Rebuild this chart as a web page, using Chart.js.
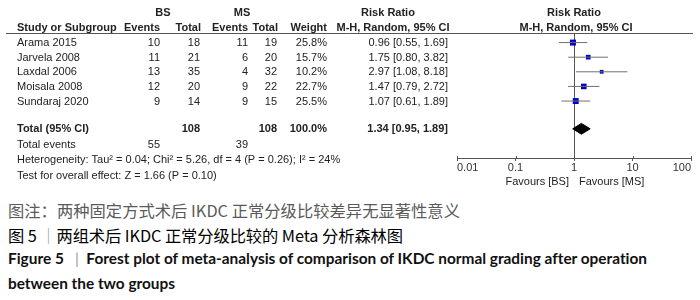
<!DOCTYPE html>
<html>
<head>
<meta charset="utf-8">
<script src="https://cdn.jsdelivr.net/npm/chart.js@4.4.1/dist/chart.umd.min.js"></script>
<style>
html,body{margin:0;padding:0;background:#fff;}
#wrap{position:relative;width:700px;height:300px;overflow:hidden;background:#fff;}
#chartBox{position:absolute;left:0;top:0;width:700px;height:195px;}
.cap{position:absolute;left:8px;white-space:nowrap;height:20px;line-height:20px;}
#cap1{top:200px;font-family:"Noto Sans CJK SC",sans-serif;font-size:16.3px;color:#5a5a5a;}
#cap2{top:225px;font-family:"Noto Sans CJK SC",sans-serif;font-size:16.3px;color:#000;font-weight:400;}
#cap3{top:248px;font-family:Lato,"Noto Sans CJK SC",sans-serif;font-size:15.4px;font-weight:bold;color:#111;}
#cap4{top:273px;font-family:Lato,"Noto Sans CJK SC",sans-serif;font-size:15.4px;font-weight:bold;color:#111;}
.bar{color:#9a9a9a;font-weight:normal;}
</style>
</head>
<body>
<div id="wrap">
  <div id="chartBox"><canvas id="c" width="700" height="195"></canvas></div>
  <div class="cap" id="cap1">图注：两种固定方式术后 IKDC 正常分级比较差异无显著性意义</div>
  <div class="cap" id="cap2">图 5 <span class="bar">｜</span>两组术后 IKDC 正常分级比较的 Meta 分析森林图</div>
  <div class="cap" id="cap3">Figure 5 &nbsp;&nbsp;<span class="bar">|</span>&nbsp;&nbsp;Forest plot of meta-analysis of comparison of IKDC normal grading after operation</div>
  <div class="cap" id="cap4">between the two groups</div>
</div>
<script>
// ---------------- DATA ----------------
const studies   = ['Arama 2015', 'Jarvela 2008', 'Laxdal 2006', 'Moisala 2008', 'Sundaraj 2020'];
const bsEvents  = [10, 11, 13, 12, 9];
const bsTotal   = [18, 21, 35, 20, 14];
const msEvents  = [11, 6, 4, 9, 9];
const msTotal   = [19, 20, 32, 22, 15];
const weights   = [25.8, 15.7, 10.2, 22.7, 25.5];
const riskRatio = [0.96, 1.75, 2.97, 1.47, 1.07];
const ciLow     = [0.55, 0.80, 1.08, 0.79, 0.61];
const ciHigh    = [1.69, 3.82, 8.18, 2.72, 1.89];

const pooledRR   = 1.34;
const pooledLow  = 0.95;
const pooledHigh = 1.89;
const totalBS = 108, totalMS = 108, totalWeight = '100.0%';
const eventsBS = 55, eventsMS = 39;
const heterogeneityText = 'Heterogeneity: Tau² = 0.04; Chi² = 5.26, df = 4 (P = 0.26); I² = 24%';
const overallEffectText = 'Test for overall effect: Z = 1.66 (P = 0.10)';

const axisTicks  = [0.01, 0.1, 1, 10, 100];
const axisLabels = ['0.01', '0.1', '1', '10', '100'];
const favoursLeft = 'Favours [BS]';
const favoursRight = 'Favours [MS]';

// ---------------- LAYOUT ----------------
const studyRows = studies.map((_, i) => i);
const totalRow = 5.9, eventsRow = 7, hetRow = 8, testRow = 9.1;
const diamondHalf = 0.37;
const FONT = '"Liberation Sans", Arial, sans-serif';
const TXT = '#222';
const captionRight = {cap1: 460, cap2: 403, cap3: 647, cap4: 175};

function fmt(v){ return v.toFixed(2); }

const datasets = [];
studies.forEach((s, i) => {
  datasets.push({
    label: s + ' CI',
    data: [{x: ciLow[i], y: studyRows[i]}, {x: ciHigh[i], y: studyRows[i]}],
    showLine: true, borderColor: '#707070', borderWidth: 1, pointRadius: 0, fill: false
  });
});
datasets.push({
  label: 'Risk ratio',
  data: riskRatio.map((v, i) => ({x: v, y: studyRows[i]})),
  pointStyle: 'rect',
  pointRadius: weights.map(w => 0.83 * Math.sqrt(w)),
  backgroundColor: '#0000c8', borderColor: '#0000c8', borderWidth: 0
});
datasets.push({
  label: 'Pooled',
  data: [
    {x: pooledLow, y: totalRow},
    {x: pooledRR, y: totalRow - diamondHalf},
    {x: pooledHigh, y: totalRow},
    {x: pooledRR, y: totalRow + diamondHalf},
    {x: pooledLow, y: totalRow}
  ],
  showLine: true, fill: 'shape', borderColor: '#000', backgroundColor: '#000',
  borderWidth: 1, pointRadius: 0, tension: 0
});

const tablePlugin = {
  id: 'tablePlugin',
  beforeDatasetsDraw(chart) {
    const {ctx, chartArea, scales: {x}} = chart;
    const px = x.getPixelForValue(1);
    ctx.save();
    ctx.strokeStyle = '#555';
    ctx.lineWidth = 1;
    ctx.beginPath();
    ctx.moveTo(Math.round(px) + 0.5, chartArea.top);
    ctx.lineTo(Math.round(px) + 0.5, chartArea.bottom);
    ctx.stroke();
    ctx.restore();
  },
  afterDraw(chart) {
    const {ctx, scales: {x, y}} = chart;
    const ry = r => y.getPixelForValue(r) + 0.5;
    ctx.save();
    ctx.fillStyle = TXT;
    ctx.textBaseline = 'middle';
    const t = (s, xx, yy, align, bold) => {
      ctx.font = (bold ? 'bold ' : '') + '11px ' + FONT;
      ctx.textAlign = align;
      ctx.fillText(String(s), xx, yy);
    };
    // header line 1
    t('BS', 163, 13, 'center', true);
    t('MS', 242, 13, 'center', true);
    t('Risk Ratio', 388, 13, 'center', true);
    t('Risk Ratio', 574, 13, 'center', true);
    // header line 2
    t('Study or Subgroup', 17, 28, 'left', true);
    t('Events', 160, 28, 'right', true);
    t('Total', 201, 28, 'right', true);
    t('Events', 248, 28, 'right', true);
    t('Total', 278, 28, 'right', true);
    t('Weight', 327, 28, 'right', true);
    t('M-H, Random, 95% CI', 393, 28, 'center', true);
    t('M-H, Random, 95% CI', 576, 28, 'center', true);
    // underline
    ctx.strokeStyle = '#555';
    ctx.lineWidth = 1;
    ctx.beginPath();
    ctx.moveTo(6, 33.5);
    ctx.lineTo(693, 33.5);
    ctx.stroke();
    // small upward tick parts crossing the axis
    const axisY = chart.chartArea.bottom;
    ctx.beginPath();
    axisTicks.forEach(v => {
      const px = Math.round(x.getPixelForValue(v)) + 0.5;
      ctx.moveTo(px, axisY - 2);
      ctx.lineTo(px, axisY);
    });
    ctx.stroke();
    // study rows
    studies.forEach((s, i) => {
      const yy = ry(studyRows[i]);
      t(s, 17, yy, 'left', false);
      t(bsEvents[i], 160, yy, 'right', false);
      t(bsTotal[i], 200, yy, 'right', false);
      t(msEvents[i], 248, yy, 'right', false);
      t(msTotal[i], 277, yy, 'right', false);
      t(weights[i].toFixed(1) + '%', 327, yy, 'right', false);
      t(fmt(riskRatio[i]) + ' [' + fmt(ciLow[i]) + ', ' + fmt(ciHigh[i]) + ']', 448, yy, 'right', false);
    });
    // totals
    let yy = ry(totalRow);
    t('Total (95% CI)', 17, yy, 'left', true);
    t(totalBS, 200, yy, 'right', true);
    t(totalMS, 277, yy, 'right', true);
    t(totalWeight, 327, yy, 'right', true);
    t(fmt(pooledRR) + ' [' + fmt(pooledLow) + ', ' + fmt(pooledHigh) + ']', 448, yy, 'right', true);
    yy = ry(eventsRow);
    t('Total events', 17, yy, 'left', false);
    t(eventsBS, 160, yy, 'right', false);
    t(eventsMS, 248, yy, 'right', false);
    t(heterogeneityText, 17, ry(hetRow), 'left', false);
    t(overallEffectText, 17, ry(testRow), 'left', false);
    // favours
    const p1 = x.getPixelForValue(1);
    t(favoursLeft, p1 - 5, 182, 'right', false);
    t(favoursRight, p1 + 5, 182, 'left', false);
    ctx.restore();
  }
};

new Chart(document.getElementById('c'), {
  type: 'scatter',
  data: {datasets},
  options: {
    responsive: false,
    animation: false,
    devicePixelRatio: 1,
    layout: {padding: {left: 457, right: 9, top: 33, bottom: 20.8}},
    plugins: {legend: {display: false}, tooltip: {enabled: false}},
    scales: {
      x: {
        type: 'logarithmic', min: 0.01, max: 100,
        afterBuildTicks: s => { s.ticks = axisTicks.map(v => ({value: v})); },
        ticks: {
          align: 'inner', autoSkip: false, maxRotation: 0, padding: 0,
          color: '#333', font: {family: FONT, size: 11},
          callback: (v, i) => axisLabels[i]
        },
        grid: {drawOnChartArea: false, drawTicks: true, tickLength: 3, color: '#555'},
        border: {display: true, color: '#555', width: 1}
      },
      y: {type: 'linear', reverse: true, min: -0.655, max: 7.897, display: false}
    }
  },
  plugins: [tablePlugin]
});

// fit caption widths to the reference line lengths (letter-spacing tweak)
function fitCaptions() {
  Object.keys(captionRight).forEach(id => {
    const el = document.getElementById(id);
    el.style.letterSpacing = '0px';
    const w = el.getBoundingClientRect().width;
    const target = captionRight[id] - 8;
    const n = el.textContent.length;
    const ls = (target - w) / n;
    if (Math.abs(ls) < 1.2) el.style.letterSpacing = ls.toFixed(3) + 'px';
  });
}
if (document.fonts && document.fonts.ready) document.fonts.ready.then(fitCaptions); else fitCaptions();
</script>
</body>
</html>
